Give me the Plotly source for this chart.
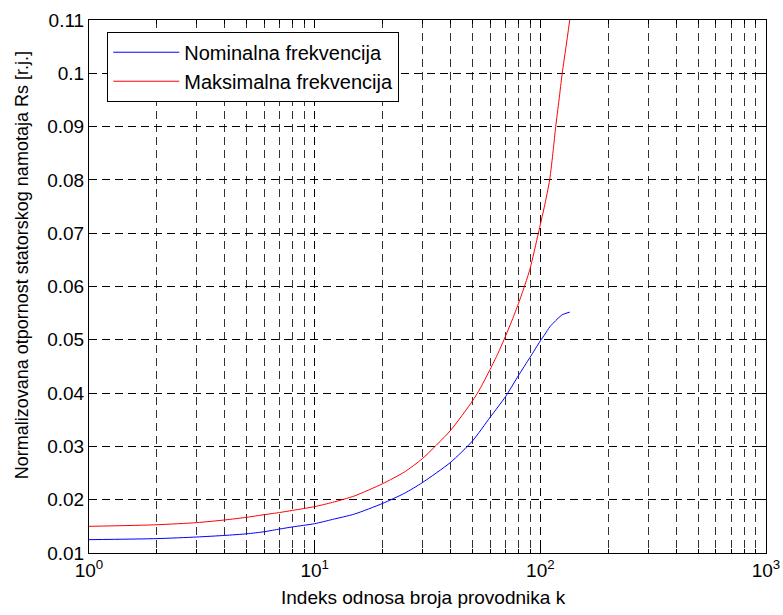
import plotly.graph_objects as go

# Data
k_nom = [1, 2, 3, 4, 5, 6, 7, 8, 10, 12, 15, 20, 25, 30, 40, 50, 60, 70, 80, 90, 100,
         105, 110, 117, 125, 135]
rs_nom = [0.0125, 0.0127, 0.0130, 0.0133, 0.0136, 0.0140, 0.0145, 0.0149, 0.0155, 0.0163, 0.0173,
          0.0193, 0.0212, 0.0232, 0.0270, 0.0310, 0.0355, 0.0393, 0.0433, 0.0467, 0.0498,
          0.0511, 0.0524, 0.0536, 0.0547, 0.0552]

k_max = [1, 2, 3, 4, 5, 6, 7, 8, 10, 12, 15, 20, 25, 30, 40, 50, 54, 60, 65, 69, 75, 80, 85, 90,
         98, 104, 110, 114, 117, 121, 125, 130, 135]
rs_max = [0.0150, 0.0153, 0.0157, 0.0162, 0.0167, 0.0172, 0.0176, 0.0180, 0.0187, 0.0195, 0.0207,
          0.0230, 0.0252, 0.0277, 0.0330, 0.0385, 0.0408, 0.0445, 0.0475, 0.0500, 0.0537, 0.0568,
          0.0600, 0.0633, 0.0700, 0.0748, 0.0800, 0.0855, 0.0900, 0.0950, 0.1000, 0.1050, 0.1100]

series_names = ["Nominalna frekvencija", "Maksimalna frekvencija"]
x_title = "Indeks odnosa broja provodnika k"
y_title = "Normalizovana otpornost statorskog namotaja Rs [r.j.]"

x_major = [1, 10, 100, 1000]
x_major_text = ["10<sup>0</sup>", "10<sup>1</sup>", "10<sup>2</sup>", "10<sup>3</sup>"]
x_minor = [m * d for d in (1, 10, 100) for m in range(2, 10)]
y_ticks = [0.01, 0.02, 0.03, 0.04, 0.05, 0.06, 0.07, 0.08, 0.09, 0.10, 0.11]
y_text = ["0.01", "0.02", "0.03", "0.04", "0.05", "0.06", "0.07", "0.08", "0.09", "0.1", "0.11"]

FONT = "Liberation Sans, Arial, sans-serif"
DASH = "8px,5px"

fig = go.Figure()
fig.add_trace(go.Scatter(x=k_nom, y=rs_nom, mode="lines", name=series_names[0],
                         line=dict(color="#0000ff", width=1, shape="spline", smoothing=0.6)))
fig.add_trace(go.Scatter(x=k_max, y=rs_max, mode="lines", name=series_names[1],
                         line=dict(color="#ff0000", width=1, shape="spline", smoothing=0.6)))

fig.update_layout(
    width=783, height=615,
    margin=dict(l=89, r=17, t=20, b=62, autoexpand=False),
    paper_bgcolor="white", plot_bgcolor="white",
    font=dict(family=FONT, size=19, color="black"),
    showlegend=True,
    legend=dict(x=0.027, y=0.978, xanchor="left", yanchor="top",
                bordercolor="black", borderwidth=1, bgcolor="white",
                font=dict(family=FONT, size=20), itemwidth=66,
                tracegroupgap=0),
    annotations=[
        dict(text=x_title, xref="paper", yref="paper", x=0.4934, y=-0.0826,
             xanchor="center", yanchor="middle", showarrow=False,
             font=dict(family=FONT, size=19)),
        dict(text=y_title, xref="paper", yref="paper", x=(22 - 89) / 678, y=0.540,
             xanchor="center", yanchor="middle", textangle=-90, showarrow=False,
             font=dict(family=FONT, size=18)),
    ],
)

fig.update_xaxes(
    type="log", range=[0, 3], automargin=False,
    tickmode="array", tickvals=x_major, ticktext=x_major_text,
    ticks="inside", ticklen=6, tickcolor="black",
    showline=True, linecolor="black", linewidth=1, mirror="ticks",
    showgrid=True, gridcolor="black", gridwidth=1, griddash=DASH,
    minor=dict(tickmode="array", tickvals=x_minor, ticks="inside", ticklen=4,
               tickcolor="black", showgrid=True, gridcolor="#333333",
               gridwidth=1, griddash=DASH),
    zeroline=False,
)
fig.update_yaxes(
    range=[0.01, 0.11], automargin=False,
    tickmode="array", tickvals=y_ticks, ticktext=y_text,
    ticks="inside", ticklen=6, tickcolor="black",
    showline=True, linecolor="black", linewidth=1, mirror="ticks",
    showgrid=True, gridcolor="black", gridwidth=1, griddash=DASH,
    zeroline=False,
)

fig.write_html("out.html")
